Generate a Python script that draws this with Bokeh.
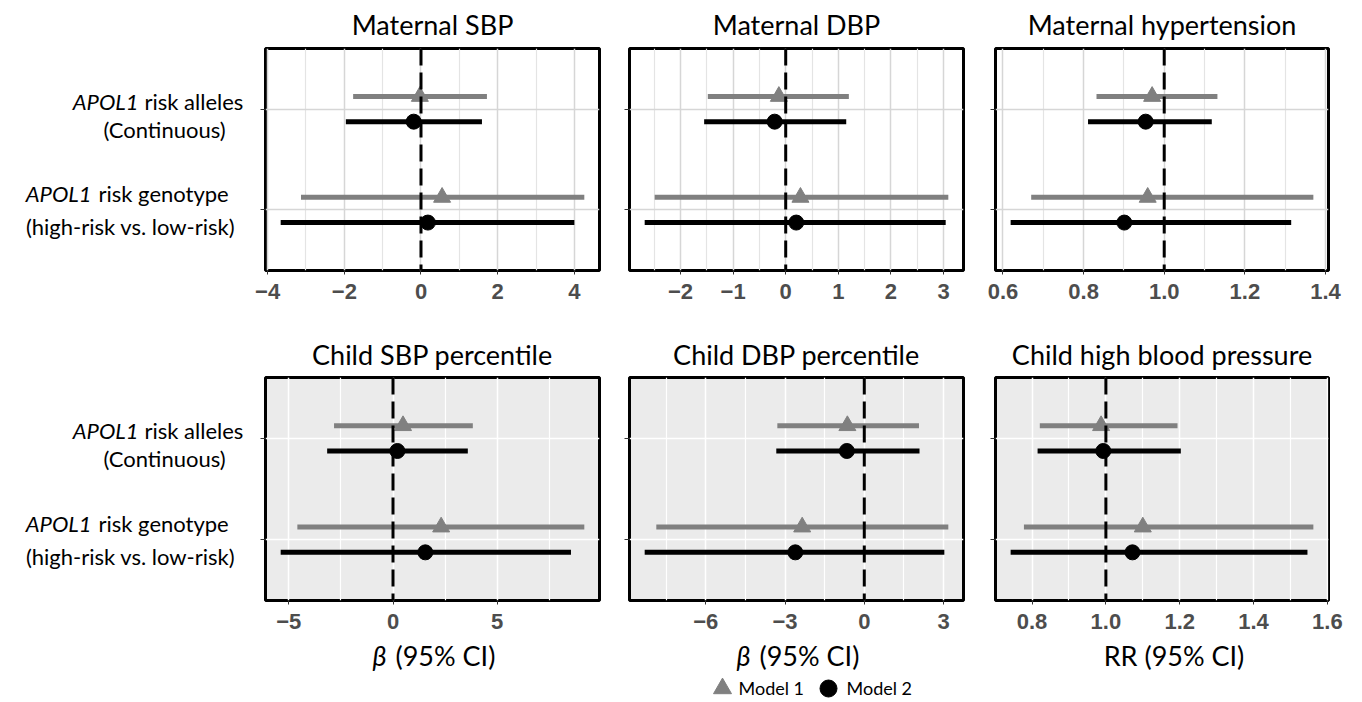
from bokeh.plotting import figure
from bokeh.layouts import column, row
from bokeh.models import Range1d, FixedTicker, ColumnDataSource, Span
from bokeh.core.properties import value
from bokeh.embed import file_html
from bokeh.resources import INLINE

# ---------------- data ----------------
exposures = ["APOL1 risk alleles (Continuous)", "APOL1 risk genotype (high-risk vs. low-risk)"]
exposure_pos = [2, 1]
titles = ["Maternal SBP", "Maternal DBP", "Maternal hypertension",
          "Child SBP percentile", "Child DBP percentile", "Child high blood pressure"]
null_values = [0, 0, 1, 0, 0, 1]

m1_est = [[-0.03, 0.55], [-0.13, 0.28], [0.970, 0.959], [0.48, 2.31], [-0.64, -2.35], [0.987, 1.100]]
m1_lo = [[-1.77, -3.13], [-1.48, -2.49], [0.832, 0.670], [-2.83, -4.59], [-3.29, -7.87], [0.821, 0.778]]
m1_hi = [[1.72, 4.26], [1.20, 3.09], [1.132, 1.370], [3.83, 9.18], [2.07, 3.18], [1.194, 1.562]]
m2_est = [[-0.19, 0.18], [-0.21, 0.20], [0.954, 0.901], [0.21, 1.55], [-0.66, -2.61], [0.993, 1.072]]
m2_lo = [[-1.96, -3.66], [-1.55, -2.68], [0.811, 0.619], [-3.16, -5.39], [-3.33, -8.31], [0.815, 0.742]]
m2_hi = [[1.59, 4.00], [1.15, 3.04], [1.118, 1.315], [3.59, 8.54], [2.09, 3.03], [1.203, 1.546]]

major_ticks = [[-4, -2, 0, 2, 4], [-2, -1, 0, 1, 2, 3], [0.6, 0.8, 1.0, 1.2, 1.4],
               [-5, 0, 5], [-6, -3, 0, 3], [0.8, 1.0, 1.2, 1.4, 1.6]]
tick_labels = [["\u22124", "\u22122", "0", "2", "4"],
               ["\u22122", "\u22121", "0", "1", "2", "3"],
               ["0.6", "0.8", "1.0", "1.2", "1.4"],
               ["\u22125", "0", "5"],
               ["\u22126", "\u22123", "0", "3"],
               ["0.8", "1.0", "1.2", "1.4", "1.6"]]
minor_ticks = [[-3, -1, 1, 3], [-2.5, -1.5, -0.5, 0.5, 1.5, 2.5], [0.7, 0.9, 1.1, 1.3],
               [-2.5, 2.5, 7.5], [-7.5, -4.5, -1.5, 1.5], [0.9, 1.1, 1.3, 1.5]]
x_titles = ["beta", "beta", "RR (95% CI)"]
models = ["Model 1", "Model 2"]

GRAY = "#808080"
DODGE = 0.125
FONT = "Lato"

# ---------------- layout sizes ----------------
W_LABEL = 245
FRAME_W = [334, 334, 333]
MB_LEFT = 20
MB_RIGHT = [10, 12, 26]
TOTAL_W = W_LABEL + sum(FRAME_W) + 3 * MB_LEFT + sum(MB_RIGHT)
TOP_TITLE_H = 46
BOT_TITLE_H = 63
TOP_ROW = dict(frame_h=222, mb_top=2, mb_bottom=42)
BOT_ROW = dict(frame_h=223, mb_top=2, mb_bottom=40)
STRIP_H = 60

frame_centers = []
xx = W_LABEL
for c in range(3):
    frame_centers.append(xx + MB_LEFT + FRAME_W[c] / 2)
    xx += MB_LEFT + FRAME_W[c] + MB_RIGHT[c]


def blank(width, height, xr, yr, **kw):
    p = figure(width=width, height=height, x_range=xr, y_range=yr,
               output_backend="svg", toolbar_location=None,
               x_axis_location=None, y_axis_location=None, **kw)
    p.grid.visible = False
    p.outline_line_color = None
    p.background_fill_color = "white"
    p.border_fill_color = "white"
    return p


def make_panel(k, col, spec, shaded):
    vals = m1_lo[k] + m1_hi[k] + m2_lo[k] + m2_hi[k] + [null_values[k]]
    lo, hi = min(vals), max(vals)
    pad = 0.05 * (hi - lo)
    width = MB_LEFT + FRAME_W[col] + MB_RIGHT[col]
    height = spec["mb_top"] + spec["frame_h"] + spec["mb_bottom"]
    p = figure(width=width, height=height,
               x_range=Range1d(lo - pad, hi + pad), y_range=Range1d(0.4, 2.6),
               output_backend="svg", toolbar_location=None,
               min_border_left=MB_LEFT, min_border_right=MB_RIGHT[col],
               min_border_top=spec["mb_top"], min_border_bottom=spec["mb_bottom"])
    p.border_fill_color = "white"
    p.background_fill_color = "#EBEBEB" if shaded else "white"
    p.outline_line_color = "black"
    p.outline_line_width = 3

    gcol_major = "white" if shaded else "#D6D6D6"
    gcol_minor = "white" if shaded else "#E4E4E4"

    # x axis
    p.xaxis.ticker = FixedTicker(ticks=major_ticks[k], minor_ticks=minor_ticks[k])
    p.xaxis.major_label_overrides = {t: l for t, l in zip(major_ticks[k], tick_labels[k])}
    p.xaxis.axis_line_color = None
    p.xaxis.major_tick_out = 4
    p.xaxis.major_tick_in = 0
    p.xaxis.major_tick_line_color = "#333333"
    p.xaxis.minor_tick_line_color = None
    p.xaxis.major_label_standoff = 9
    p.xaxis.major_label_text_font = "Liberation Sans"
    p.xaxis.major_label_text_font_style = "bold"
    p.xaxis.major_label_text_font_size = "22px"
    p.xaxis.major_label_text_color = "#4D4D4D"

    # y axis (ticks only)
    p.yaxis.ticker = FixedTicker(ticks=exposure_pos)
    p.yaxis.major_label_overrides = {t: "" for t in exposure_pos}
    p.yaxis.axis_line_color = None
    p.yaxis.major_tick_out = 5
    p.yaxis.major_tick_in = 0
    p.yaxis.major_tick_line_color = "#333333"
    p.yaxis.minor_tick_line_color = None
    p.yaxis.major_label_standoff = 0

    p.xgrid.grid_line_color = gcol_major
    p.xgrid.grid_line_width = 1.5
    p.xgrid.minor_grid_line_color = gcol_minor
    p.xgrid.minor_grid_line_width = 1.2
    p.ygrid.grid_line_color = gcol_major
    p.ygrid.grid_line_width = 1.5
    p.ygrid.minor_grid_line_color = None

    y1 = [v + DODGE for v in exposure_pos]
    y2 = [v - DODGE for v in exposure_pos]
    s1 = ColumnDataSource(dict(y=y1, est=m1_est[k], lo=m1_lo[k], hi=m1_hi[k]))
    s2 = ColumnDataSource(dict(y=y2, est=m2_est[k], lo=m2_lo[k], hi=m2_hi[k]))
    p.segment(x0="lo", y0="y", x1="hi", y1="y", source=s1, line_color=GRAY,
              line_width=5, line_cap="butt")
    p.segment(x0="lo", y0="y", x1="hi", y1="y", source=s2, line_color="black",
              line_width=5, line_cap="butt")
    p.scatter(x="est", y="y", source=s1, marker="triangle", size=17,
              fill_color=GRAY, line_color=GRAY)
    p.scatter(x="est", y="y", source=s2, marker="circle", size=15,
              fill_color="black", line_color="black")
    p.add_layout(Span(location=null_values[k], dimension="height", line_color="black",
                      line_width=3, line_dash="17 7"))
    return p


def make_labels(spec):
    height = spec["mb_top"] + spec["frame_h"] + spec["mb_bottom"]
    p = blank(W_LABEL, height, Range1d(0, W_LABEL), Range1d(0.4, 2.6),
              min_border_left=0, min_border_right=0,
              min_border_top=spec["mb_top"], min_border_bottom=spec["mb_bottom"])
    fs = "22px"
    it = ColumnDataSource(dict(x=[138, 91], y=exposure_pos, t=["APOL1", "APOL1"], dy=[-8, -16]))
    p.text(x="x", y="y", text="t", y_offset="dy", source=it, text_font=value(FONT),
           text_font_style="italic", text_font_size=fs, text_align="right",
           text_baseline="alphabetic", text_color="black")
    rest = ColumnDataSource(dict(x=[144, 98], y=exposure_pos, t=["risk alleles", "risk genotype"],
                                 dy=[-8, -16]))
    p.text(x="x", y="y", text="t", y_offset="dy", source=rest, text_font=value(FONT),
           text_font_size=fs, text_align="left", text_baseline="alphabetic",
           text_color="black")
    l2 = ColumnDataSource(dict(x=[164, 130], y=exposure_pos,
                               t=["(Continuous)", "(high-risk vs. low-risk)"], dy=[20, 17]))
    p.text(x="x", y="y", text="t", y_offset="dy", source=l2, text_font=value(FONT),
           text_font_size=fs, text_align="center", text_baseline="alphabetic",
           text_color="black")
    return p


def title_strip(height, names, baseline):
    p = blank(TOTAL_W, height, Range1d(0, TOTAL_W), Range1d(height, 0),
              min_border_left=0, min_border_right=0, min_border_top=0, min_border_bottom=0)
    src = ColumnDataSource(dict(x=frame_centers, y=[baseline] * 3, t=names))
    p.text(x="x", y="y", text="t", source=src, text_font=value(FONT),
           text_font_size="27px", text_align="center", text_baseline="alphabetic",
           text_color="black")
    return p


def bottom_strip():
    p = blank(TOTAL_W, STRIP_H, Range1d(0, TOTAL_W), Range1d(STRIP_H, 0),
              min_border_left=0, min_border_right=0, min_border_top=0, min_border_bottom=0)
    base = 15
    beta_c = [frame_centers[c] for c in range(3) if x_titles[c] == "beta"]
    p.text(x=[c - 46 for c in beta_c], y=[base] * len(beta_c), text=["\u03b2"] * len(beta_c),
           text_font=value(FONT), text_font_style="italic", text_font_size="27px",
           text_align="right", text_baseline="alphabetic", text_color="black")
    p.text(x=[c - 37 for c in beta_c], y=[base] * len(beta_c), text=["(95% CI)"] * len(beta_c),
           text_font=value(FONT), text_font_size="27px", text_align="left",
           text_baseline="alphabetic", text_color="black")
    p.text(x=[frame_centers[2] + 12], y=[base], text=[x_titles[2]],
           text_font=value(FONT), text_font_size="27px", text_align="center",
           text_baseline="alphabetic", text_color="black")
    # legend
    p.scatter(x=[722], y=[48], marker="triangle", size=18, fill_color=GRAY, line_color=GRAY)
    p.scatter(x=[828], y=[48], marker="circle", size=17, fill_color="black", line_color="black")
    p.text(x=[738, 846], y=[47, 47], text=models, text_font=value(FONT),
           text_font_size="18px", text_align="left", text_baseline="alphabetic",
           text_color="black")
    return p


top_row = row(make_labels(TOP_ROW),
              *[make_panel(c, c, TOP_ROW, False) for c in range(3)])
bot_row = row(make_labels(BOT_ROW),
              *[make_panel(3 + c, c, BOT_ROW, True) for c in range(3)])

layout = column(title_strip(TOP_TITLE_H, titles[:3], 24),
                top_row,
                title_strip(BOT_TITLE_H, titles[3:], 42),
                bot_row,
                bottom_strip())

with open("out.html", "w") as f:
    f.write(file_html(layout, INLINE))
